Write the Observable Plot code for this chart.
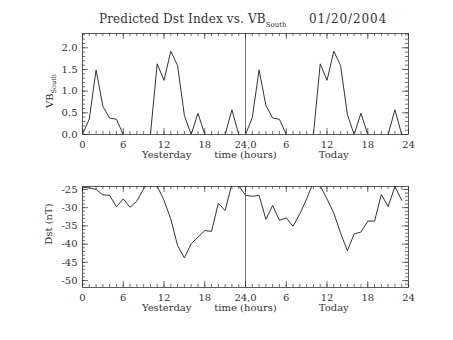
<!DOCTYPE html>
<html><head><meta charset="utf-8">
<script src="https://cdn.jsdelivr.net/npm/d3@7"></script>
<script src="https://cdn.jsdelivr.net/npm/@observablehq/plot@0.6"></script>
<style>
body{margin:0;background:#fff}
#wrap{position:relative;width:453px;height:340px;font-family:"DejaVu Serif",serif;color:#333}
#wrap svg{position:absolute;left:0;overflow:visible}
.title{position:absolute;top:12px;font-size:12px;white-space:pre;letter-spacing:0.15px}
.title sub{font-size:7px;vertical-align:-4px;letter-spacing:0}
.ylab{position:absolute;font-size:10px;white-space:pre;transform:translate(-50%,-50%) rotate(-90deg)}
.ylab sub{font-size:6.5px;vertical-align:-3px}
</style></head>
<body><div id="wrap">
<div class="title" style="left:99px">Predicted Dst Index vs. VB<sub>South</sub></div>
<div class="title" style="left:309px;letter-spacing:0.9px">01/20/2004</div>
<div class="ylab" style="left:51px;top:91px">VB<sub>South</sub></div>
<div class="ylab" style="left:48px;top:224px">Dst (nT)</div>
</div>
<script>
const hours = d3.range(48);
const vbSouth = [0, 0.36, 1.49, 0.65, 0.38, 0.35, 0, 0, 0, 0, 0, 1.63, 1.25, 1.92, 1.59, 0.44, 0, 0.49, 0, 0, 0, 0, 0.57, 0,
                 0, 0.39, 1.49, 0.67, 0.38, 0.35, 0, 0, 0, 0, 0, 1.63, 1.25, 1.92, 1.59, 0.46, 0, 0.49, 0, 0, 0, 0, 0.57, 0];
const dst = [-24.4, -24.6, -25.0, -26.5, -26.6, -29.8, -27.6, -29.9, -28.2, -24.8, -23.0, -24.1, -28.0, -33.1, -40.4, -43.8, -39.9, -38.1, -36.3, -36.5, -28.8, -30.8, -23.5, -24.0,
             -26.6, -26.9, -26.6, -33.2, -29.4, -33.5, -32.8, -35.1, -31.7, -27.6, -23.0, -24.0, -27.6, -31.5, -37.0, -41.8, -37.2, -36.7, -33.7, -33.7, -26.4, -29.7, -24.2, -28.0];
const xMajorTicks = [0, 6, 12, 18, 24, 30, 36, 42, 48];
const xTickLabels = ["0", "6", "12", "18", "24,0", "6", "12", "18", "24"];
const xMinorTicks = d3.range(0, 49);
const vbTicks = [0, 0.5, 1.0, 1.5, 2.0];
const vbMinor = d3.range(0, 24).map(i => i / 10);
const dstTicks = [-25, -30, -35, -40, -45, -50];
const dstMinor = d3.range(-51, -24);
const dayLabels = ["Yesterday", "time (hours)", "Today"];
const dayLabelHours = [12.4, 24, 37];
const vbDomain = [0, 2.33];
const dstDomain = [-51.9, -24.2];

const ink = "#333";
const tickFmt = new Map(xMajorTicks.map((d, i) => [d, xTickLabels[i]]));

function panel(values, yDomain, yTicks, yMinor, yFmt, mt, mb, top) {
  const W = 453, H = 170, ml = 82, mr = 45;
  const fw = W - ml - mr, fh = H - mt - mb;
  const tk = {stroke: ink, strokeWidth: 0.7};
  const p = Plot.plot({
    width: W, height: H,
    marginLeft: ml, marginRight: mr, marginTop: mt, marginBottom: mb,
    style: {fontFamily: "DejaVu Serif", fontSize: "10px", color: "#333", background: "transparent"},
    x: {domain: [0, 48], axis: null},
    y: {domain: yDomain, axis: null},
    marks: [
      Plot.line(hours, {x: d => d, y: (d, i) => values[i], stroke: ink, strokeWidth: 1, clip: true}),
      Plot.ruleX([24], {stroke: "#555", strokeWidth: 0.8}),
      Plot.frame({stroke: ink, strokeWidth: 0.8}),
      // minor and major ticks drawn inward on all four sides
      Plot.ruleX(xMinorTicks, {x: d => d, insetTop: fh - 3, ...tk}),
      Plot.ruleX(xMinorTicks, {x: d => d, insetBottom: fh - 3, ...tk}),
      Plot.ruleX(xMajorTicks, {x: d => d, insetTop: fh - 6, ...tk}),
      Plot.ruleX(xMajorTicks, {x: d => d, insetBottom: fh - 6, ...tk}),
      Plot.ruleY(yMinor, {y: d => d, insetRight: fw - 3, ...tk}),
      Plot.ruleY(yMinor, {y: d => d, insetLeft: fw - 3, ...tk}),
      Plot.ruleY(yTicks, {y: d => d, insetRight: fw - 6, ...tk}),
      Plot.ruleY(yTicks, {y: d => d, insetLeft: fw - 6, ...tk}),
      Plot.text(yTicks, {y: d => d, text: yFmt, frameAnchor: "left", dx: -5, textAnchor: "end", fill: "#333", fontSize: 10}),
      Plot.text(xMajorTicks, {x: d => d, text: d => tickFmt.get(d), frameAnchor: "bottom", dy: 13, fill: "#333", fontSize: 10}),
      Plot.text(dayLabels, {x: (d, i) => dayLabelHours[i], text: d => d, frameAnchor: "bottom", dy: 23.5, fill: "#333", fontSize: 10})
    ]
  });
  p.style.top = top + "px";
  document.getElementById("wrap").appendChild(p);
}

panel(vbSouth, vbDomain, vbTicks, vbMinor, d => d.toFixed(1), 33, 36, 0);
panel(dst, dstDomain, dstTicks, dstMinor, d => String(d), 16, 53, 170);
</script>
</body></html>
